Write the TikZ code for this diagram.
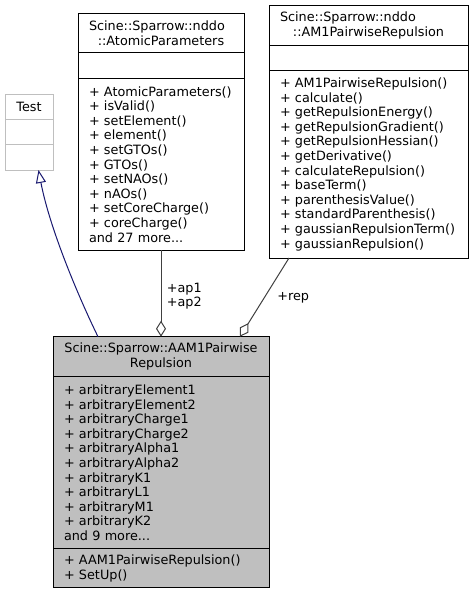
\documentclass[tikz,border=0pt]{standalone}
\usepackage{fontspec}
\setmainfont{DejaVu Sans}
\usetikzlibrary{arrows.meta, positioning, calc}
\definecolor{midblue}{HTML}{191970}

\begin{document}
\begin{tikzpicture}[x=1pt, y=-1pt,
    every node/.style={font=\fontsize{12.8pt}{14.6pt}\selectfont},
    part/.style={draw, line width=1pt, inner ysep=0pt, inner xsep=11pt, outer sep=0pt},
    agg/.style={draw=darkgray, line width=1pt, -{Diamond[open, length=16pt, width=10pt]}},
    inherit/.style={draw=midblue, line width=1pt, -{Triangle[open, length=13pt, width=10pt]}}]

    \useasboundingbox (0,0) rectangle (475,595);

    % base class
    \node (testname) [part, draw=gray!50, anchor=north west, minimum width=48pt, minimum height=25pt] at (5,94) {Test};
    \node (testattr) [part, draw=gray!50, below=0pt of testname, minimum width=48pt, minimum height=25pt] {};
    \node (testmeth) [part, draw=gray!50, below=0pt of testattr, minimum width=48pt, minimum height=26pt] {};

    % atomic parameters
    \node (aptitle) [part, anchor=north west, minimum width=166pt, text width=144pt, minimum height=39.4pt] at (78,13.3) {\raggedright Scine::Sparrow::nddo\par\centering ::AtomicParameters\par};
    \node (apattr) [part, below=0pt of aptitle, minimum width=166pt, minimum height=26pt] {};
    \node (apmeth) [part, below=0pt of apattr, minimum width=166pt, text width=144pt, align=left, minimum height=171.3pt] {+ AtomicParameters()\\+ isValid()\\+ setElement()\\+ element()\\+ setGTOs()\\+ GTOs()\\+ setNAOs()\\+ nAOs()\\+ setCoreCharge()\\+ coreCharge()\\and 27 more...};

    % pairwise repulsion
    \node (am1title) [part, anchor=north west, minimum width=199pt, text width=177pt, minimum height=40pt] at (269,5.7) {\raggedright Scine::Sparrow::nddo\par\centering ::AM1PairwiseRepulsion\par};
    \node (am1attr) [part, below=0pt of am1title, minimum width=199pt, minimum height=25pt] {};
    \node (am1meth) [part, below=0pt of am1attr, minimum width=199pt, text width=177pt, align=left, minimum height=187.3pt] {+ AM1PairwiseRepulsion()\\+ calculate()\\+ getRepulsionEnergy()\\+ getRepulsionGradient()\\+ getRepulsionHessian()\\+ getDerivative()\\+ calculateRepulsion()\\+ baseTerm()\\+ parenthesisValue()\\+ standardParenthesis()\\+ gaussianRepulsionTerm()\\+ gaussianRepulsion()};

    % test fixture
    \node (mtitle) [part, fill=gray!50, anchor=north west, minimum width=216pt, text width=194pt, align=center, minimum height=40pt] at (53,336.7) {Scine::Sparrow::AAM1Pairwise\\Repulsion};
    \node (mattr) [part, fill=gray!50, below=0pt of mtitle, minimum width=216pt, text width=194pt, align=left, minimum height=172pt] {+ arbitraryElement1\\+ arbitraryElement2\\+ arbitraryCharge1\\+ arbitraryCharge2\\+ arbitraryAlpha1\\+ arbitraryAlpha2\\+ arbitraryK1\\+ arbitraryL1\\+ arbitraryM1\\+ arbitraryK2\\and 9 more...};
    \node (mmeth) [part, fill=gray!50, below=0pt of mattr, minimum width=216pt, text width=194pt, align=left, minimum height=39pt] {+ AAM1PairwiseRepulsion()\\+ SetUp()};

    \draw[inherit] ($(mtitle.north west)+(45,0)$) .. controls (80,300) and (50,230) .. ($(testmeth.south west)+(33.5,0)$);
    \draw[agg] (apmeth.south) -- node (aplabel) [right=2pt, yshift=-3pt, align=left] {+ap1\\+ap2} (mtitle.north);
    \draw[agg] ($(am1meth.south west)+(20,0)$) -- node (replabel) [right=9pt] {+rep} ($(mtitle.north east)+(-29,0)$);

\end{tikzpicture}
\end{document}
